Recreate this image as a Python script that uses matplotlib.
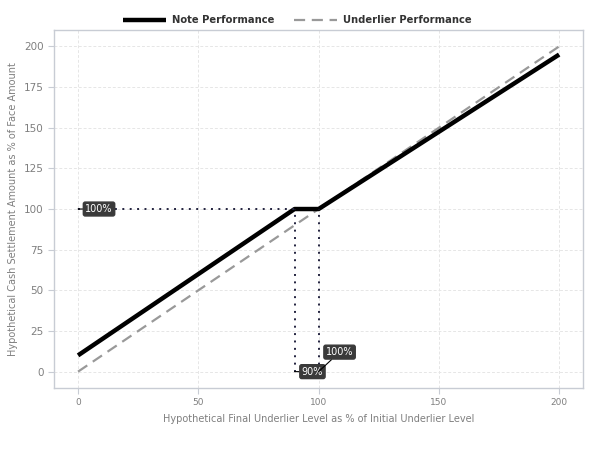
import matplotlib.pyplot as plt

# underlier levels (% of initial) and payoffs
note_x = [0, 90, 100, 200]
note_y = [10, 100, 100, 195]
under_x = [0, 200]
under_y = [0, 200]

x_ticks = [0, 50, 100, 150, 200]
y_ticks = [0, 25, 50, 75, 100, 125, 150, 175, 200]

# annotation points and labels
ann_pts = [(0, 100), (90, 0), (100, 0)]
ann_txt = ["100%", "90%", "100%"]
ann_off = [(3, 0), (3, 0), (3, 12)]

GRAY = "#7f7f7f"
FRAME = "#c8ccd4"

fig = plt.figure(figsize=(6, 4.5), dpi=100)
ax = fig.add_axes([0.09, 0.138, 0.882, 0.795])

ax.plot(under_x, under_y, color="#999999", lw=1.6, ls=(0, (5, 3)), zorder=3,
        label="Underlier Performance")
ax.plot(note_x, note_y, color="black", lw=3.2, solid_capstyle="butt", zorder=4,
        label="Note Performance")

dot_c = "#23233f"
ax.plot([0, 90], [100, 100], color=dot_c, ls=(0, (1, 2.8)), lw=1.4, zorder=5)
ax.plot([90, 90], [0, 100], color=dot_c, ls=(0, (1, 2.8)), lw=1.4, zorder=5)
ax.plot([100, 100], [0, 100], color=dot_c, ls=(0, (1, 2.8)), lw=1.4, zorder=5)

for (px, py), t, (dx, dy) in zip(ann_pts, ann_txt, ann_off):
    ax.annotate(t, xy=(px, py), xytext=(px + dx, py + dy), fontsize=7,
                color="white", va="center", ha="left",
                bbox=dict(boxstyle="round,pad=0.2,rounding_size=0.2",
                          fc="#3a3a3a", ec="#3a3a3a"),
                arrowprops=dict(arrowstyle="-", color="black", lw=0.8,
                                shrinkA=0, shrinkB=0),
                zorder=6)

ax.set_xlim(-10, 210)
ax.set_ylim(-10, 210)
ax.set_xticks(x_ticks)
ax.set_yticks(y_ticks)
ax.grid(True, color="#e6e6e6", ls=(0, (3, 2)), lw=0.7)
ax.set_axisbelow(True)
for s in ax.spines.values():
    s.set_color(FRAME)
    s.set_linewidth(1.0)
ax.tick_params(axis="x", colors=FRAME, labelcolor=GRAY, labelsize=6.5, length=4)
ax.tick_params(axis="y", colors=FRAME, labelcolor=GRAY, labelsize=7.5, length=4)

ax.set_xlabel("Hypothetical Final Underlier Level as % of Initial Underlier Level",
              fontsize=7, color=GRAY, labelpad=5)
ax.set_ylabel("Hypothetical Cash Settlement Amount as % of Face Amount",
              fontsize=7, color=GRAY)
ax.yaxis.set_label_coords(-0.068, 0.5)

h, l = ax.get_legend_handles_labels()
leg = fig.legend(h[::-1], l[::-1], loc="center", bbox_to_anchor=(0.495, 0.955),
                 ncol=2, frameon=False, handlelength=4.3, handletextpad=0.6,
                 columnspacing=2.0, prop=dict(size=7.2, weight="bold"))
for t in leg.get_texts():
    t.set_color("#333333")

fig.savefig("out.png", dpi=100)
